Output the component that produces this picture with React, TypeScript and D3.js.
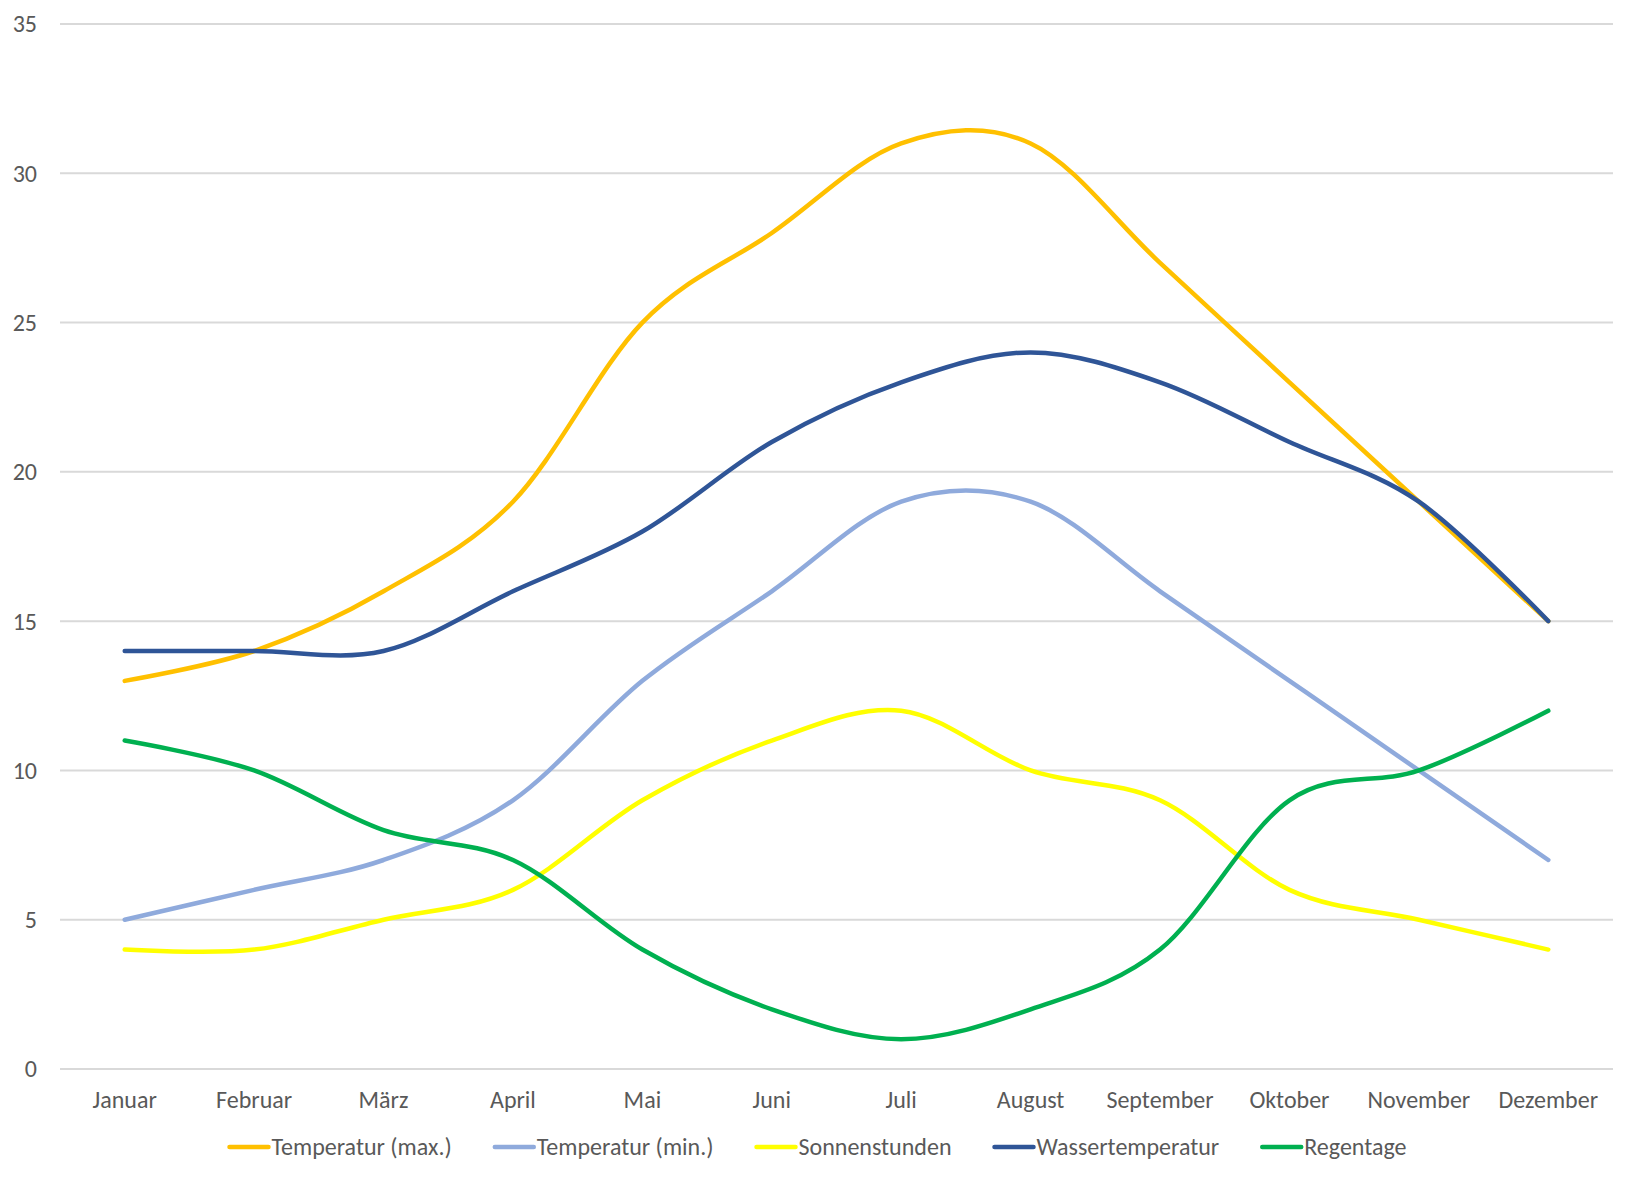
import React, { useEffect, useRef } from 'react';
import * as d3 from 'd3';

const months = ['Januar', 'Februar', 'März', 'April', 'Mai', 'Juni', 'Juli', 'August', 'September', 'Oktober', 'November', 'Dezember'];
const yTicks = [0, 5, 10, 15, 20, 25, 30, 35];

const tempMax = [13, 14, 16, 19, 25, 28, 31, 31, 27, 23, 19, 15];
const tempMin = [5, 6, 7, 9, 13, 16, 19, 19, 16, 13, 10, 7];
const sonne = [4, 4, 5, 6, 9, 11, 12, 10, 9, 6, 5, 4];
const wasser = [14, 14, 14, 16, 18, 21, 23, 24, 23, 21, 19, 15];
const regen = [11, 10, 8, 7, 4, 2, 1, 2, 4, 9, 10, 12];

const seriesNames = ['Temperatur (max.)', 'Temperatur (min.)', 'Sonnenstunden', 'Wassertemperatur', 'Regentage'];
const seriesColors = ['#FFC000', '#8FAADC', '#FFFF00', '#2F5597', '#00B050'];

const W = 1636, H = 1180;
const FONT = 'Carlito, Calibri, Lato, sans-serif';
const FS = 24;

const Chart = () => {
  const ref = useRef<SVGSVGElement | null>(null);

  useEffect(() => {
    if (!ref.current) return;
    const svg = d3.select(ref.current);
    svg.selectAll('*').remove();

    const left = 60, right = 1613, top = 24, bottom = 1069;
    const x = d3.scaleBand<string>().domain(months).range([left, right]).padding(0);
    const y = d3.scaleLinear().domain([0, 35]).range([bottom, top]);
    const cx = (m: string) => (x(m) as number) + x.bandwidth() / 2;

    // gridlines
    svg.append('g').selectAll('line')
      .data(yTicks)
      .enter().append('line')
      .attr('x1', left).attr('x2', right)
      .attr('y1', d => y(d)).attr('y2', d => y(d))
      .attr('stroke', '#D9D9D9').attr('stroke-width', 2);

    // y labels
    svg.append('g').selectAll('text')
      .data(yTicks)
      .enter().append('text')
      .attr('x', 37).attr('y', d => y(d))
      .attr('dy', '0.35em')
      .attr('text-anchor', 'end')
      .attr('font-family', FONT).attr('font-size', FS)
      .attr('fill', '#595959')
      .text(d => d);

    // x labels
    svg.append('g').selectAll('text')
      .data(months)
      .enter().append('text')
      .attr('x', d => cx(d)).attr('y', 1100)
      .attr('dy', '0.35em')
      .attr('text-anchor', 'middle')
      .attr('font-family', FONT).attr('font-size', FS)
      .attr('fill', '#595959')
      .text(d => d);

    // lines
    const allSeries = [tempMax, tempMin, sonne, wasser, regen];
    const line = d3.line<number>()
      .x((_, i) => cx(months[i]))
      .y(d => y(d))
      .curve(d3.curveCatmullRom.alpha(0));

    allSeries.forEach((s, i) => {
      svg.append('path')
        .attr('d', line(s) as string)
        .attr('fill', 'none')
        .attr('stroke', seriesColors[i])
        .attr('stroke-width', 4.5)
        .attr('stroke-linecap', 'round')
        .attr('stroke-linejoin', 'round');
    });

    // legend, measured and centred
    const lg = svg.append('g');
    const swatch = 39, swGap = 3, itemGap = 43, ly = 1147;
    const items = seriesNames.map((name, i) => {
      const g = lg.append('g');
      g.append('line')
        .attr('x1', 0).attr('x2', swatch)
        .attr('y1', 0).attr('y2', 0)
        .attr('stroke', seriesColors[i]).attr('stroke-width', 4.5)
        .attr('stroke-linecap', 'round');
      const t = g.append('text')
        .attr('x', swatch + swGap).attr('y', 0)
        .attr('dy', '0.35em')
        .attr('font-family', FONT).attr('font-size', FS)
        .attr('fill', '#595959')
        .text(name);
      const w = (t.node() as SVGTextElement).getComputedTextLength();
      return { g, w: swatch + swGap + w };
    });
    const total = d3.sum(items, d => d.w) + itemGap * (items.length - 1);
    let pos = W / 2 - total / 2;
    items.forEach(it => {
      it.g.attr('transform', `translate(${pos},${ly})`);
      pos += it.w + itemGap;
    });
  }, []);

  return (
    <svg
      ref={ref}
      width={W}
      height={H}
      style={{ position: 'absolute', left: 0, top: 0, background: '#fff' }}
    />
  );
};

export default function App() {
  return <Chart />;
}
